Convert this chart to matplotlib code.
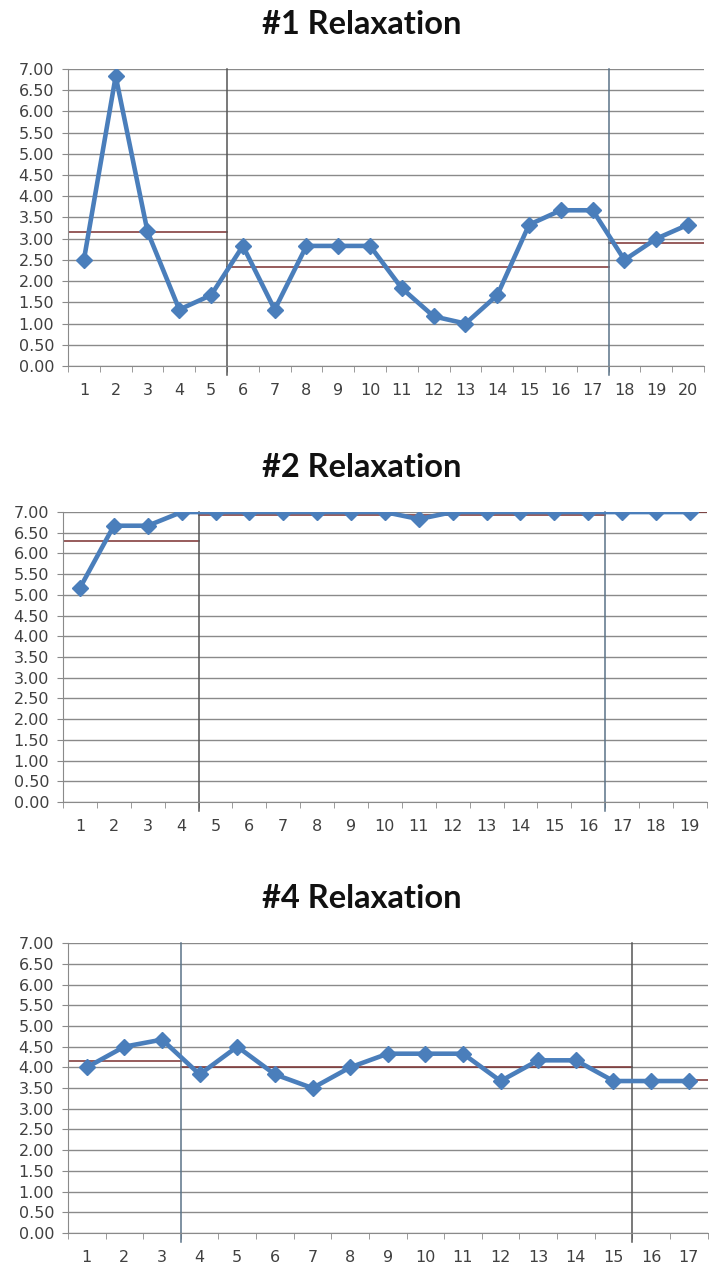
#!/usr/bin/env python3
"""Three relaxation ratings charts with phase lines and phase levels."""

import matplotlib
matplotlib.use("Agg")
import matplotlib.pyplot as plt  # type: ignore
import numpy as np  # type: ignore

titles = ["#1 Relaxation", "#2 Relaxation", "#4 Relaxation"]

relax1 = [2.50, 6.83, 3.17, 1.33, 1.67, 2.83, 1.33, 2.83, 2.83, 2.83,
          1.83, 1.17, 1.00, 1.67, 3.33, 3.67, 3.67, 2.50, 3.00, 3.33]
relax2 = [5.17, 6.67, 6.67, 7.00, 7.00, 7.00, 7.00, 7.00, 7.00, 7.00,
          6.83, 7.00, 7.00, 7.00, 7.00, 7.00, 7.00, 7.00, 7.00]
relax4 = [4.00, 4.50, 4.67, 3.83, 4.50, 3.83, 3.50, 4.00, 4.33, 4.33,
          4.33, 3.67, 4.17, 4.17, 3.67, 3.67, 3.67]

# phase changes (between sessions) and the level drawn for each phase
phase_breaks1 = [5.5, 17.5]
phase_breaks2 = [4.5, 16.5]
phase_breaks4 = [3.5, 15.5]
levels1 = [3.15, 2.33, 2.91]
levels2 = [6.29, 6.93, 7.00]
levels4 = [4.16, 4.02, 3.69]

LINE = "#4a7ebb"
GRID = "#8a8a8a"
TEXT = "#404040"
W, H = 709, 1270


def draw(fig, ax, title, values, breaks, levels, break_colors):
    """One chart: series, gridlines, phase lines and phase levels."""
    n = len(values)
    x = np.arange(1, n + 1)
    ax.set_xlim(0.5, n + 0.5)
    ax.set_ylim(0, 7)
    ax.set_yticks(np.arange(0, 7.01, 0.5))
    ax.set_yticklabels([f"{v:.2f}" for v in np.arange(0, 7.01, 0.5)])
    ax.yaxis.grid(True, color=GRID, linewidth=1.0)
    ax.set_axisbelow(True)
    ax.set_xticks(x)
    ax.set_xticklabels([str(i) for i in x])
    ax.set_xticks(np.arange(0.5, n + 1, 1.0), minor=True)
    ax.tick_params(axis="x", which="major", length=0, pad=12, labelsize=11.5,
                   labelcolor=TEXT)
    ax.tick_params(axis="x", which="minor", length=4, color=GRID,
                   direction="out")
    ax.tick_params(axis="y", length=4, color=GRID, labelsize=11.5,
                   labelcolor=TEXT, pad=6)
    for side in ("top", "right"):
        ax.spines[side].set_visible(False)
    for side in ("left", "bottom"):
        ax.spines[side].set_color(GRID)

    edges = [0.5] + list(breaks) + [n + 0.5]
    for (x0, x1), lev in zip(zip(edges[:-1], edges[1:]), levels):
        ax.plot([x0, x1], [lev, lev], color="#7a2f2f", linewidth=1.1,
                zorder=2)
    for b, c in zip(breaks, break_colors):
        ax.axvline(b, ymin=-0.03, ymax=1.0, color=c, linewidth=1.1,
                   clip_on=False, zorder=2)

    ax.plot(x, values, color=LINE, linewidth=3.3, marker="D",
            markersize=8.5, zorder=3)

    top = ax.get_position().y1
    fig.text(362 / W, top + 35 / H, title, ha="center", va="baseline",
             fontsize=23.5, fontweight="bold", family="Lato", color="#111111")


def main():
    fig = plt.figure(figsize=(7.09, 12.70), dpi=100)
    ax1 = fig.add_axes([0.0959, 0.7118, 0.8970, 0.2339])
    ax2 = fig.add_axes([0.0889, 0.3685, 0.9080, 0.2283])
    ax4 = fig.add_axes([0.0959, 0.0291, 0.9020, 0.2283])
    draw(fig, ax1, titles[0], relax1, phase_breaks1, levels1,
         ["#555555", "#5b7388"])
    draw(fig, ax2, titles[1], relax2, phase_breaks2, levels2,
         ["#555555", "#5b7388"])
    draw(fig, ax4, titles[2], relax4, phase_breaks4, levels4,
         ["#5b7388", "#555555"])
    fig.savefig("out.png", dpi=100)


if __name__ == "__main__":
    main()
